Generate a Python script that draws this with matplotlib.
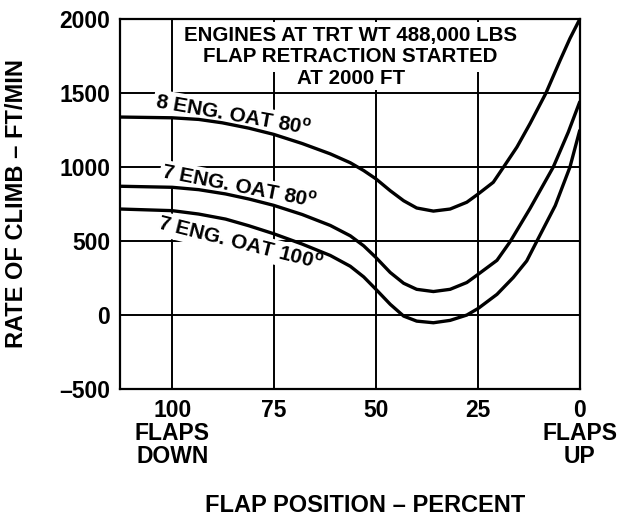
import matplotlib
matplotlib.use("Agg")
from matplotlib import pyplot as plt
from matplotlib.patches import Rectangle

plt.rcParams["font.family"] = ["Liberation Sans", "DejaVu Sans"]
plt.rcParams["font.weight"] = "bold"
plt.rcParams["mathtext.fontset"] = "custom"
plt.rcParams["mathtext.bf"] = "Liberation Sans:bold"
plt.rcParams["mathtext.rm"] = "Liberation Sans:bold"

# flap position (percent) vs rate of climb (ft/min)
flap_8e80 = [112.7, 100, 93.5, 87.7, 81.2, 75.1, 68.1, 61.2, 56.3, 53, 50, 46.5, 43.2, 40, 35.9,
             31.8, 27.7, 24.9, 21.2, 18.7, 15.4, 12.2, 8.3, 4.8, 2.4, 0]
roc_8e80 = [1339, 1334, 1323, 1300, 1264, 1222, 1160, 1090, 1030, 977, 921, 841, 773, 724, 703,
            717, 763, 819, 898, 1000, 1136, 1294, 1500, 1723, 1870, 2000]

flap_7e80 = [112.7, 100, 93.5, 86.9, 81.2, 75.1, 68.1, 61.2, 56.3, 53, 50, 46.5, 43.2, 40, 35.9,
             31.8, 27.7, 24.9, 20.3, 17.1, 12.2, 6.5, 2.8, 0]
roc_7e80 = [871, 864, 848, 819, 785, 742, 680, 606, 536, 468, 389, 288, 215, 174, 159,
            174, 220, 276, 370, 495, 720, 1000, 1237, 1441]

flap_7e100 = [112.7, 100, 93.5, 86.9, 81.2, 75.1, 68.1, 61.2, 56.3, 53, 50, 46.5, 43.2, 40, 35.9,
              31.8, 27.7, 24.9, 20.3, 16.3, 13, 10.5, 6.0, 2.4, 1.2, 0]
roc_7e100 = [717, 706, 683, 649, 604, 550, 480, 403, 330, 258, 174, 73, -7, -41, -52,
             -36, 0, 45, 140, 254, 366, 500, 740, 1000, 1124, 1248]

x_ticks = [100, 75, 50, 25, 0]
x_labels = ["100\nFLAPS\nDOWN", "75", "50", "25", "0\nFLAPS\nUP"]
y_ticks = [-500, 0, 500, 1000, 1500, 2000]
y_labels = ["\u2013500", "0", "500", "1000", "1500", "2000"]

curve_labels = [
    ("8 ENG. OAT 80$^{\\mathbf{o}}$", 85.0, 1352, -10),
    ("7 ENG. OAT 80$^{\\mathbf{o}}$", 83.5, 866, -11),
    ("7 ENG. OAT 100$^{\\mathbf{o}}$", 83.3, 484, -14),
]

header = [
    ("ENGINES AT TRT WT 488,000 LBS", 350, 36),
    ("FLAP RETRACTION STARTED", 350, 57),
    ("AT 2000 FT", 351, 79),
]

W, H = 619, 519
fig = plt.figure(figsize=(W / 100, H / 100), dpi=100)
ax = fig.add_axes([0.1939, 0.2505, 0.7426, 0.7123])

ax.set_xlim(112.8, 0)
ax.set_ylim(-500, 2000)
ax.set_xticks(x_ticks)
ax.set_xticklabels(x_labels, fontsize=16.5, fontweight="bold", linespacing=1.0)
ax.set_yticks(y_ticks)
ax.set_yticklabels(y_labels, fontsize=16.5, fontweight="bold")
ax.tick_params(length=0, pad=7)

ax.grid(True, color="black", linewidth=1.4)
ax.set_axisbelow(True)
for sp in ax.spines.values():
    sp.set_linewidth(1.6)
    sp.set_zorder(6)

for fx, ry in [(flap_8e80, roc_8e80), (flap_7e80, roc_7e80), (flap_7e100, roc_7e100)]:
    ax.plot(fx, ry, color="black", linewidth=2.4, zorder=5,
            solid_capstyle="round", solid_joinstyle="round")

for text, fx, ry, rot in curve_labels:
    ax.text(fx, ry, text, fontsize=15, fontweight="bold", rotation=rot,
            rotation_mode="anchor", ha="center", va="center", zorder=4,
            bbox=dict(facecolor="white", edgecolor="none", pad=1.5))

# white backing behind the header block (hides the grid there)
for x0, y0, x1, y1 in [(195, 22, 506, 72), (292, 60, 412, 90)]:
    ax.add_patch(Rectangle((x0 / W, 1 - y1 / H), (x1 - x0) / W, (y1 - y0) / H,
                           transform=fig.transFigure, facecolor="white",
                           edgecolor="none", zorder=3.5, clip_on=False))
for text, px, py in header:
    ax.text(px / W, 1 - py / H, text, transform=fig.transFigure, fontsize=14.8,
            fontweight="bold", ha="center", va="center", zorder=4)

fig.text(17 / W, 1 - 204 / H, "RATE OF CLIMB \u2013 FT/MIN", fontsize=17,
         fontweight="bold", rotation=90, ha="center", va="center")
fig.text(365 / W, 1 - 505 / H, "FLAP POSITION \u2013 PERCENT", fontsize=17,
         fontweight="bold", ha="center", va="center")

fig.savefig("out.png", dpi=100)
